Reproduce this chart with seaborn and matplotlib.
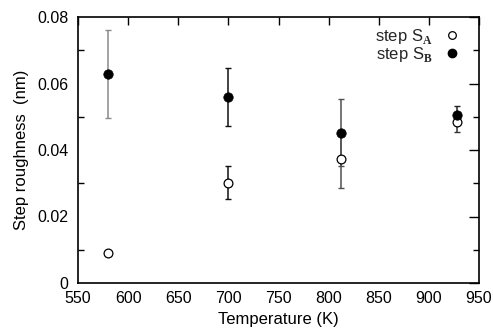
import matplotlib
matplotlib.use("Agg")
import matplotlib.pyplot as plt
import seaborn as sns
import pandas as pd
from matplotlib.lines import Line2D
from matplotlib.ticker import MultipleLocator

sns.set_theme(style="white")
plt.rcParams['font.family'] = ['Liberation Sans', 'DejaVu Sans']
plt.rcParams['mathtext.fontset'] = 'custom'
plt.rcParams['mathtext.rm'] = 'Liberation Serif'
plt.rcParams['mathtext.bf'] = 'Liberation Serif:bold'

temp_A = [580, 700, 812, 928]
rough_A = [0.0089, 0.0302, 0.0372, 0.0484]
err_A = [0.0004, 0.0050, 0.0087, 0.0030]

temp_B = [580, 700, 812, 928]
rough_B = [0.0628, 0.0559, 0.0452, 0.0505]
err_B = [0.0133, 0.0087, 0.0100, 0.0027]

err_colors_B = ['#8a8a8a', '#111111', '#505050', '#222222']
err_colors_A = ['#666666', '#111111', '#505050', '#333333']

df_A = pd.DataFrame({'T': temp_A, 'r': rough_A})
df_B = pd.DataFrame({'T': temp_B, 'r': rough_B})

fig = plt.figure(figsize=(4.93, 3.31), dpi=100)
ax = fig.add_axes([78/493, 48/331, 401/493, 266/331])

for t, r, e, c in zip(temp_A, rough_A, err_A, err_colors_A):
    ax.errorbar(t, r, yerr=e, fmt='none', ecolor=c, elinewidth=1.1, capsize=2.2, capthick=1.0, zorder=2)
for t, r, e, c in zip(temp_B, rough_B, err_B, err_colors_B):
    ax.errorbar(t, r, yerr=e, fmt='none', ecolor=c, elinewidth=1.1, capsize=2.2, capthick=1.0, zorder=2)

sns.scatterplot(data=df_A, x='T', y='r', ax=ax, marker='o', s=40, facecolor='white',
                edgecolor='black', linewidth=0.9, zorder=3, legend=False)
sns.scatterplot(data=df_B, x='T', y='r', ax=ax, marker='o', s=46, color='black',
                edgecolor='black', linewidth=0.5, zorder=4, legend=False)

ax.set_xlim(550, 950)
ax.set_ylim(0, 0.08)
ax.set_xticks([550, 600, 650, 700, 750, 800, 850, 900, 950])
ax.set_yticks([0, 0.02, 0.04, 0.06, 0.08])
ax.set_yticklabels(['0', '0.02', '0.04', '0.06', '0.08'])
ax.yaxis.set_minor_locator(MultipleLocator(0.01))
ax.tick_params(axis='x', which='major', direction='in', length=6, width=1.0, top=True,
               labelsize=11.5, colors='black', pad=6)
ax.tick_params(axis='y', which='major', direction='in', length=7, width=1.0, right=True,
               labelsize=11.5, colors='black', pad=7)
ax.tick_params(axis='y', which='minor', direction='in', length=4, width=1.0, right=True, left=True,
               colors='black')
for s in ax.spines.values():
    s.set_color('black')
    s.set_linewidth(1.2)
ax.set_xlabel('Temperature (K)', fontsize=12, color='black', labelpad=4)
ax.set_ylabel('Step roughness  (nm)', fontsize=12, color='black', labelpad=6)

handles = [
    Line2D([], [], linestyle='none', marker='o', markersize=5.5, markerfacecolor='white',
           markeredgecolor='black', markeredgewidth=0.9),
    Line2D([], [], linestyle='none', marker='o', markersize=6, markerfacecolor='black',
           markeredgecolor='black'),
]
ax.legend(handles, [r'step S$_{\mathbf{A}}$', r'step S$_{\mathbf{B}}$'], loc='upper right',
          markerfirst=False, frameon=False, fontsize=12, handlelength=2.0,
          handletextpad=0.2, labelspacing=-0.05, borderaxespad=0.2, borderpad=0.4)

fig.savefig('out.png', dpi=100)
